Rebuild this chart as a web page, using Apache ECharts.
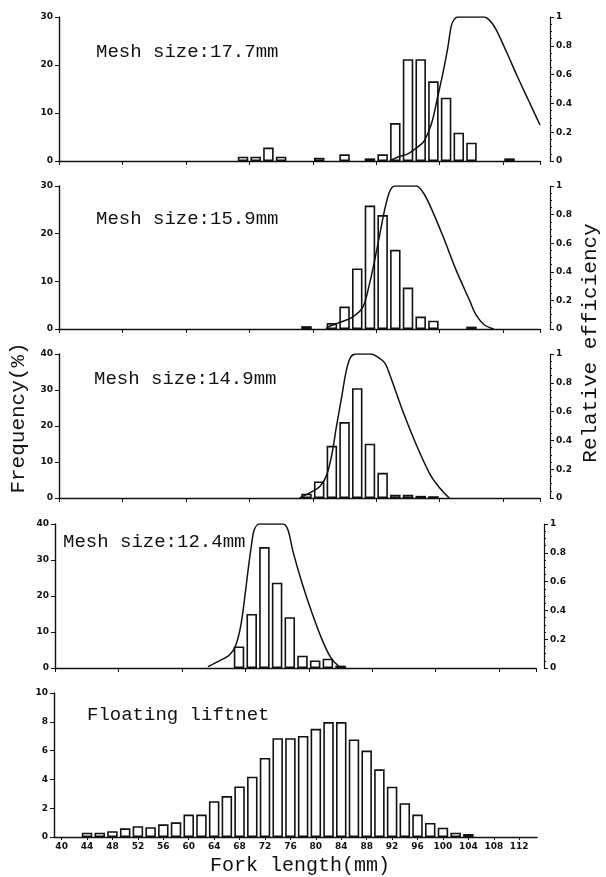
<!DOCTYPE html>
<html>
<head>
<meta charset="utf-8">
<script src="https://cdn.jsdelivr.net/npm/echarts@6/dist/echarts.min.js"></script>
<style>
  html, body { margin: 0; padding: 0; background: #fff; }
  #chart { width: 606px; height: 877px; }
</style>
</head>
<body>
<div id="chart"></div>
<script>
// mesh size 17.7mm: length-class centres (mm) and frequency (%)
const len177 = [69, 71, 73, 75, 81, 85, 89, 91, 93, 95, 97, 99, 101, 103, 105, 111];
const freq177 = [0.9, 0.9, 2.8, 0.9, 0.7, 1.4, 0.55, 1.4, 7.9, 21.2, 21.2, 16.6, 13.2, 5.9, 3.8, 0.55];
const effLen177 = [92.1, 93.5, 95, 96.3, 97.4, 98.2, 98.9, 99.7, 100.5, 101.3, 101.8, 102.3, 102.9, 107, 107.8, 108.8, 110.5, 112.2, 114, 115.8];
const eff177 = [0, 0.03, 0.05, 0.09, 0.13, 0.2, 0.29, 0.45, 0.61, 0.795, 0.935, 0.985, 1, 1, 0.98, 0.92, 0.76, 0.59, 0.42, 0.25];

// mesh size 15.9mm
const len159 = [79, 83, 85, 87, 89, 91, 93, 95, 97, 99, 105];
const freq159 = [0.6, 1.25, 4.7, 12.7, 25.9, 23.9, 16.6, 8.7, 2.6, 1.75, 0.5];
const effLen159 = [82.1, 82.4, 84.2, 86.3, 87.9, 88.9, 89.7, 90.5, 91.3, 92.1, 92.9, 96.3, 97.3, 98.4, 100.5, 102.6, 104.7, 105.7, 107, 108.5];
const eff159 = [0, 0.015, 0.045, 0.085, 0.155, 0.31, 0.47, 0.65, 0.83, 0.96, 1, 1, 0.96, 0.87, 0.65, 0.41, 0.2, 0.1, 0.03, 0];

// mesh size 14.9mm
const len149 = [79, 81, 83, 85, 87, 89, 91, 93, 95, 97, 99];
const freq149 = [1.2, 4.6, 14.5, 21.1, 30.5, 15.1, 7.0, 0.9, 0.9, 0.6, 0.5];
const effLen149 = [77.9, 79.5, 81.1, 82.1, 82.9, 83.7, 84.5, 85.3, 86.0, 86.8, 89.2, 90.0, 91.3, 92.1, 94.2, 96.3, 98.4, 100, 101.5];
const eff149 = [0, 0.035, 0.08, 0.15, 0.28, 0.49, 0.69, 0.89, 0.98, 1, 1, 0.985, 0.94, 0.86, 0.6, 0.37, 0.17, 0.07, 0];

// mesh size 12.4mm
const len124 = [69, 71, 73, 75, 77, 79, 81, 83, 85];
const freq124 = [6.0, 15.0, 33.6, 23.7, 14.1, 3.4, 2.1, 2.6, 0.65];
const effLen124 = [64.1, 65.9, 67.5, 68.5, 69.3, 69.9, 70.4, 70.9, 71.4, 72.2, 75.9, 76.7, 77.5, 79.0, 80.6, 82.2, 83.5, 84.8, 85.9];
const eff124 = [0.01, 0.05, 0.09, 0.16, 0.3, 0.49, 0.67, 0.835, 0.96, 1, 1, 0.96, 0.81, 0.58, 0.37, 0.185, 0.07, 0.01, 0];

// floating liftnet
const lenLift = [44, 46, 48, 50, 52, 54, 56, 58, 60, 62, 64, 66, 68, 70, 72, 74, 76, 78, 80, 82, 84, 86, 88, 90, 92, 94, 96, 98, 100, 102, 104];
const freqLift = [0.3, 0.3, 0.4, 0.6, 0.75, 0.68, 0.88, 1.02, 1.56, 1.56, 2.49, 2.84, 3.51, 4.19, 5.49, 6.86, 6.86, 7.02, 7.51, 7.98, 7.98, 6.77, 6.0, 4.7, 3.49, 2.35, 1.56, 0.98, 0.65, 0.3, 0.21];

const forkTicks = [40, 44, 48, 52, 56, 60, 64, 68, 72, 76, 80, 84, 88, 92, 96, 100, 104, 108, 112];
const meshLabels = ['Mesh size:17.7mm', 'Mesh size:15.9mm', 'Mesh size:14.9mm', 'Mesh size:12.4mm'];
const freqMax = [30, 30, 40, 40];

const zip = (xs, ys) => xs.map((x, i) => [x, ys[i]]);
const INK = '#111';
const monoFont = 'Liberation Mono';
const tickFont = { color: INK, fontSize: 9, fontWeight: 'bold', fontFamily: 'DejaVu Sans' };

const bars = [zip(len177, freq177), zip(len159, freq159), zip(len149, freq149), zip(len124, freq124)];
const curves = [zip(effLen177, eff177), zip(effLen159, eff159), zip(effLen149, eff149), zip(effLen124, eff124)];

// panel boxes: left, top, width, height (px)
const boxes = [
  [59, 17, 481, 144],
  [59, 186, 481, 143],
  [59, 354, 481, 144],
  [55, 524, 481, 144],
  [54, 693, 483, 144]
];
const labelPos = [[96, 52], [96, 219], [94, 379], [63, 542], [87, 715]];

const grid = boxes.map(b => ({ left: b[0], top: b[1], width: b[2], height: b[3] }));

const lineAxis = { lineStyle: { color: INK, width: 1.4 } };
const xAxis = [];
const yAxis = [];
const series = [];

for (let i = 0; i < 4; i++) {
  xAxis.push({
    type: 'value', gridIndex: i, min: 40, max: 115.8, interval: 10,
    axisLine: lineAxis, axisTick: { length: 4, lineStyle: { color: INK } },
    axisLabel: { show: false }, splitLine: { show: false }
  });
  yAxis.push({
    type: 'value', gridIndex: i, position: 'left', min: 0, max: freqMax[i], interval: 10,
    axisLine: { show: true, lineStyle: { color: INK, width: 1.4 } },
    axisTick: { show: true, length: 4, lineStyle: { color: INK } },
    axisLabel: Object.assign({ margin: 6 }, tickFont),
    splitLine: { show: false }
  });
  yAxis.push({
    type: 'value', gridIndex: i, position: 'right', offset: i < 3 ? 10 : 8,
    min: 0, max: 1, interval: 0.2,
    axisLine: { show: true, lineStyle: { color: INK, width: 1.2 } },
    axisTick: { show: true, length: 4, lineStyle: { color: INK } },
    minorTick: { show: true, splitNumber: 4, length: 2, lineStyle: { color: INK } },
    axisLabel: Object.assign({ margin: 6 }, tickFont),
    splitLine: { show: false }
  });
  series.push({
    type: 'bar', xAxisIndex: i, yAxisIndex: 2 * i, data: bars[i], barWidth: 10.5,
    itemStyle: { color: '#fff', borderColor: INK, borderWidth: 1.6 }
  });
  series.push({
    type: 'line', xAxisIndex: i, yAxisIndex: 2 * i + 1, data: curves[i], smooth: 0.3,
    showSymbol: false, z: 5, lineStyle: { color: INK, width: 1.5 }
  });
}

// bottom panel: floating liftnet
xAxis.push({
  type: 'value', gridIndex: 4, min: 38.8, max: 114.8,
  axisLine: lineAxis,
  axisTick: { length: 3, customValues: forkTicks, lineStyle: { color: INK } },
  axisLabel: Object.assign({ customValues: forkTicks, margin: 5 }, tickFont),
  splitLine: { show: false }
});
yAxis.push({
  type: 'value', gridIndex: 4, position: 'left', min: 0, max: 10, interval: 2,
  axisLine: { show: true, lineStyle: { color: INK, width: 1.4 } },
  axisTick: { show: true, length: 4, lineStyle: { color: INK } },
  axisLabel: Object.assign({ margin: 6 }, tickFont),
  splitLine: { show: false }
});
series.push({
  type: 'bar', xAxisIndex: 4, yAxisIndex: 8, data: zip(lenLift, freqLift), barWidth: 10.5,
  itemStyle: { color: '#fff', borderColor: INK, borderWidth: 1.6 }
});

const titles = meshLabels.concat(['Floating liftnet']);
const graphic = titles.map((t, i) => ({
  type: 'text', x: labelPos[i][0], y: labelPos[i][1],
  style: { text: t, fill: INK, fontSize: 19, fontFamily: monoFont, verticalAlign: 'middle' }
}));
graphic.push(
  { type: 'text', x: 18, y: 418, rotation: Math.PI / 2,
    style: { text: 'Frequency(%)', fill: INK, fontSize: 21, fontFamily: monoFont, align: 'center', verticalAlign: 'middle' } },
  { type: 'text', x: 590, y: 343, rotation: Math.PI / 2,
    style: { text: 'Relative efficiency', fill: INK, fontSize: 21, fontFamily: monoFont, align: 'center', verticalAlign: 'middle' } },
  { type: 'text', x: 300, y: 866,
    style: { text: 'Fork length(mm)', fill: INK, fontSize: 20, fontFamily: monoFont, align: 'center', verticalAlign: 'middle' } }
);

const chart = echarts.init(document.getElementById('chart'));
chart.setOption({
  animation: false,
  backgroundColor: '#fff',
  grid: grid,
  xAxis: xAxis,
  yAxis: yAxis,
  series: series,
  graphic: graphic
});
</script>
</body>
</html>
